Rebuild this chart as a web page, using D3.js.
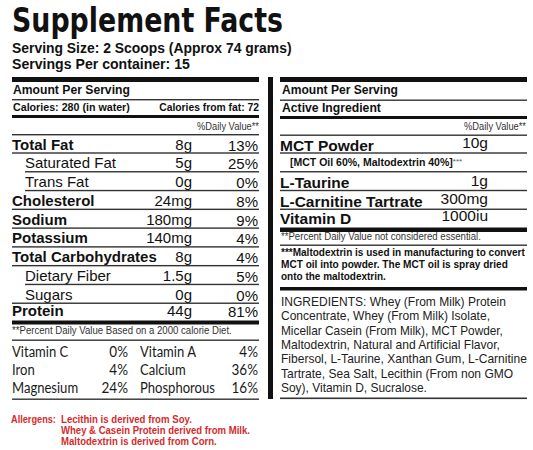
<!DOCTYPE html>
<html>
<head>
<meta charset="utf-8">
<script src="https://cdn.jsdelivr.net/npm/d3@7/dist/d3.min.js"></script>
<style>
html,body{margin:0;padding:0;background:#fff;}
svg{display:block;}
text{font-family:"Liberation Sans",Arial,sans-serif;fill:#111;}
</style>
</head>
<body>
<svg id="chart" width="533" height="450"></svg>
<script>
// ---------- DATA ----------
const title = "Supplement Facts";
const servingSize = "Serving Size: 2 Scoops (Approx 74 grams)";
const servingsPer = "Servings Per container: 15";
const calories = "Calories:  280 (in water)";
const caloriesFat = "Calories from fat: 72";

const nutrients   = ["Total Fat","Saturated Fat","Trans Fat","Cholesterol","Sodium","Potassium","Total Carbohydrates","Dietary Fiber","Sugars","Protein"];
const amounts     = ["8g","5g","0g","24mg","180mg","140mg","8g","1.5g","0g","44g"];
const dailyValues = ["13%","25%","0%","8%","9%","4%","4%","5%","0%","81%"];
const isSub       = [false,true,true,false,false,false,false,true,true,false];

const dvFootnote = "**Percent Daily Value Based on a 2000 calorie Diet.";

const vitaminNames  = ["Vitamin C","Vitamin A","Iron","Calcium","Magnesium","Phosphorous"];
const vitaminValues = ["0%","4%","4%","36%","24%","16%"];

const allergenLead = "Allergens:";
const allergenLines = ["Lecithin is derived from Soy.","Whey & Casein Protein derived from Milk.","Maltodextrin is derived from Corn."];

const activeNames   = ["MCT Powder","[MCT Oil 60%, Maltodextrin 40%]","L-Taurine","L-Carnitine Tartrate","Vitamin D"];
const activeAmounts = ["10g","","1g","300mg","1000iu"];
const activeIsNote  = [false,true,false,false,false];

const activeFootnote = "**Percent Daily Value not considered essential.";
const maltoNote = ["***Maltodextrin is used in manufacturing to convert","MCT oil into powder.  The MCT oil is spray dried","onto the maltodextrin."];
const ingredientLines = [
  "INGREDIENTS: Whey (From Milk) Protein",
  "Concentrate, Whey (From Milk) Isolate,",
  "Micellar Casein (From Milk), MCT Powder,",
  "Maltodextrin, Natural and Artificial Flavor,",
  "Fibersol, L-Taurine, Xanthan Gum, L-Carnitine",
  "Tartrate, Sea Salt, Lecithin (From non GMO",
  "Soy), Vitamin D, Sucralose."
];

// ---------- LAYOUT ----------
const svg = d3.select("#chart");
svg.append("rect").attr("width",533).attr("height",450).attr("fill","#fff");

const L = {x0:12, x1:259};
const R = {x0:280, x1:527};

function bar(x0,x1,y,h,color){
  svg.append("rect").attr("x",x0).attr("y",y).attr("width",x1-x0).attr("height",h).attr("fill",color||"#111");
}
// horizontally compress a text node to a target width (scales about its anchor point)
function fitWidth(node,x,y,target,maxK){
  const w=node.getComputedTextLength();
  const k=Math.min(maxK||1.08,target/w);
  d3.select(node).attr("x",0).attr("y",0)
    .attr("transform",`translate(${x},${y}) scale(${k},1)`);
}
function txt(s,x,y,opts){
  opts=opts||{};
  const t=svg.append("text").attr("x",x).attr("y",y).text(s)
    .attr("font-size",opts.size||12)
    .attr("font-weight",opts.bold?"bold":"normal")
    .attr("text-anchor",opts.anchor||"start");
  if(opts.family) t.style("font-family",opts.family);
  if(opts.fill) t.style("fill",opts.fill);
  if(opts.len) fitWidth(t.node(),x,y,opts.len);
  return t;
}
function squeeze(sel,k){
  sel.each(function(){
    const x=+this.getAttribute("x"), y=+this.getAttribute("y");
    d3.select(this).attr("x",0).attr("y",0).attr("transform",`translate(${x},${y}) scale(${k},1)`);
  });
}

// Title block
txt(title,12,32,{size:34,bold:true,family:"'Liberation Sans Narrow','DejaVu Sans Condensed',Arial,sans-serif",len:271});
txt(servingSize,12,53,{size:14,bold:true,len:280});
txt(servingsPer,12,69,{size:14,bold:true,len:178});

// ---------- LEFT PANEL ----------
bar(L.x0,L.x1,77,5);
txt("Amount Per Serving",13,94,{size:13,bold:true,len:117});
bar(L.x0,L.x1,99,1.4,"#333");
txt(calories,13,111,{size:11,bold:true,len:117});
txt(caloriesFat,L.x1,111,{size:11,bold:true,anchor:"end",len:100});
bar(L.x0,L.x1,115,3);
txt("%Daily Value**",L.x1,130,{size:10,anchor:"end",fill:"#333",len:62});
bar(L.x0,L.x1,134,1.4,"#333");

const yRow = d3.scaleLinear().domain([0,nutrients.length-1]).range([153,322]);
const xAmt = 192, xDv = 258, subIndent = 25;
const lastRow = nutrients.length-1;

const rows = svg.append("g").selectAll("g").data(nutrients).join("g");
rows.append("text")
  .attr("x",(d,i)=>isSub[i]?subIndent:L.x0)
  .attr("y",(d,i)=>yRow(i)-(i===lastRow?6:3.5))
  .attr("font-size",15)
  .attr("font-weight",(d,i)=>isSub[i]?"normal":"bold")
  .text(d=>d);
rows.append("text")
  .attr("x",xAmt).attr("y",(d,i)=>yRow(i)-(i===lastRow?6:3.5))
  .attr("text-anchor","end").attr("font-size",15)
  .text((d,i)=>amounts[i]);
rows.append("text")
  .attr("x",xDv).attr("y",(d,i)=>yRow(i)-(i===lastRow?5:2.5))
  .attr("text-anchor","end").attr("font-size",15)
  .text((d,i)=>dailyValues[i]);
rows.append("rect")
  .attr("x",(d,i)=>(isSub[i]&&i!==8)?subIndent:L.x0)
  .attr("y",(d,i)=>i===lastRow?yRow(i)-1.5:yRow(i)-0.7)
  .attr("width",(d,i)=>L.x1-((isSub[i]&&i!==8)?subIndent:L.x0))
  .attr("height",(d,i)=>i===lastRow?4:1.4)
  .attr("fill",(d,i)=>i===lastRow?"#111":"#333");

txt(dvFootnote,12,334,{size:10,fill:"#333",len:220});
bar(L.x0,L.x1,339.5,1.4,"#333");

// Vitamins / minerals
const yVit = d3.scaleLinear().domain([0,2]).range([357,393]);
const vitCols = [{name:12,val:128},{name:140,val:258}];
const vitFont = "Lato,'Open Sans',sans-serif";
const vit = svg.append("g").selectAll("g").data(vitaminNames).join("g");
const vitN = vit.append("text")
  .attr("x",(d,i)=>vitCols[i%2].name).attr("y",(d,i)=>yVit(Math.floor(i/2)))
  .attr("font-size",15).style("font-family",vitFont).style("fill","#1a1a1a")
  .text(d=>d);
const vitV = vit.append("text")
  .attr("x",(d,i)=>vitCols[i%2].val).attr("y",(d,i)=>yVit(Math.floor(i/2)))
  .attr("text-anchor","end")
  .attr("font-size",15).style("font-family",vitFont).style("fill","#1a1a1a")
  .text((d,i)=>vitaminValues[i]);
squeeze(vitN,0.87);
squeeze(vitV,0.9);
bar(L.x0,L.x1,398.5,1.4,"#333");

// Vertical divider
bar(268,273,77,322);

// Allergens
const red = "#d52b2b";
const yAll = d3.scaleLinear().domain([0,2]).range([423,445]);
txt(allergenLead,11,yAll(0),{size:11,bold:true,fill:red,len:45});
const allergenLens=[131,189,156];
svg.append("g").selectAll("text").data(allergenLines).join("text")
  .attr("x",61).attr("y",(d,i)=>yAll(i))
  .attr("font-size",11).attr("font-weight","bold").style("fill",red)
  .text(d=>d)
  .each(function(d,i){ fitWidth(this,61,yAll(i),allergenLens[i]); });

// ---------- RIGHT PANEL ----------
bar(R.x0,R.x1,77,5);
txt("Amount Per Serving",282,94,{size:13,bold:true,len:116});
bar(R.x0,R.x1,99.5,1.4,"#333");
txt("Active Ingredient",282,112,{size:13,bold:true,len:99});
bar(R.x0,R.x1,116,3);
txt("%Daily Value**",R.x1-1,130,{size:10,anchor:"end",fill:"#333",len:62});
bar(R.x0,R.x1,134.5,1.4,"#333");

const yAct = d3.scaleLinear().domain([0,activeNames.length-1]).range([153,228]);
const xActAmt = 488;
const lastAct = activeNames.length-1;
const act = svg.append("g").selectAll("g").data(activeNames).join("g");
act.each(function(d,i){
  const g=d3.select(this);
  const last = i===lastAct;
  if(activeIsNote[i]){
    const t=g.append("text").attr("x",290).attr("y",yAct(i)-6)
      .attr("font-size",10.5).attr("font-weight","bold").text(d);
    t.append("tspan").attr("font-weight","normal").attr("font-size",8).attr("dy",-2).style("fill","#555").text("***");
  } else {
    g.append("text").attr("x",R.x0).attr("y",yAct(i)-(last?4.5:2.5))
      .attr("font-size",15.5).attr("font-weight","bold").text(d);
    g.append("text").attr("x",xActAmt).attr("y",yAct(i)-(last?7:5))
      .attr("text-anchor","end").attr("font-size",15.5).text(activeAmounts[i]);
  }
  g.append("rect").attr("x",R.x0).attr("y",last?yAct(i)-0.5:yAct(i)-0.7)
    .attr("width",R.x1-R.x0).attr("height",last?4.5:1.4)
    .attr("fill",last?"#111":"#333");
});

txt(activeFootnote,281,240,{size:10,fill:"#333",len:200});
bar(R.x0,R.x1,244.5,1.4,"#333");

const yMalto = d3.scaleLinear().domain([0,2]).range([256,280]);
const maltoLens=[244,227,105];
svg.append("g").selectAll("text").data(maltoNote).join("text")
  .attr("x",281).attr("y",(d,i)=>yMalto(i))
  .attr("font-size",11).attr("font-weight","bold")
  .text(d=>d)
  .each(function(d,i){ fitWidth(this,281,yMalto(i),maltoLens[i]); });
bar(R.x0,R.x1,287,3.5);

const yIng = d3.scaleLinear().domain([0,ingredientLines.length-1]).range([306,392]);
const ingLens=[225,209,222,219,246,232,146];
svg.append("g").selectAll("text").data(ingredientLines).join("text")
  .attr("x",281).attr("y",(d,i)=>yIng(i))
  .attr("font-size",12.4).style("fill","#222")
  .text(d=>d)
  .each(function(d,i){ fitWidth(this,281,yIng(i),ingLens[i],1.12); });
bar(R.x0,R.x1,397.5,1.6,"#333");
</script>
</body>
</html>
